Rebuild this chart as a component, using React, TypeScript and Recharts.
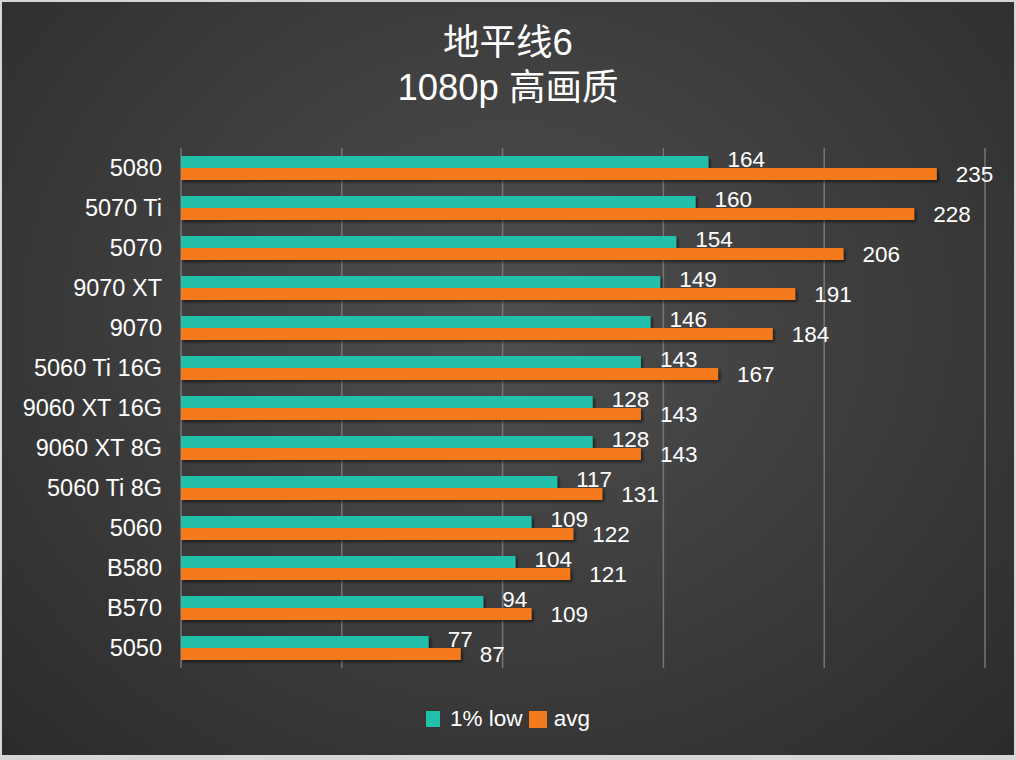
import { BarChart, Bar, XAxis, YAxis, CartesianGrid, LabelList } from "recharts";

const GPUS = [
  "5080",
  "5070 Ti",
  "5070",
  "9070 XT",
  "9070",
  "5060 Ti 16G",
  "9060 XT 16G",
  "9060 XT 8G",
  "5060 Ti 8G",
  "5060",
  "B580",
  "B570",
  "5050",
];
const LOW_1PCT = [164, 160, 154, 149, 146, 143, 128, 128, 117, 109, 104, 94, 77];
const AVG_FPS = [235, 228, 206, 191, 184, 167, 143, 143, 131, 122, 121, 109, 87];
const X_TICKS = [0, 50, 100, 150, 200, 250];

const TEAL = "#21c0aa";
const ORANGE = "#f47a1e";
const FONT = "'Liberation Sans', Arial, 'Noto Sans CJK SC', sans-serif";

const data = GPUS.map((name, i) => ({ name, low: LOW_1PCT[i], avg: AVG_FPS[i] }));

const shadowBar = (p: any) => (
  <rect x={p.x} y={p.y} width={p.width} height={p.height} fill={p.fill} filter="url(#barShadow)" />
);

const valueLabel = (dy: number) => (p: any) => (
  <text
    x={p.x + p.width + 19}
    y={p.y + p.height / 2 + dy}
    fill="#fff"
    fontSize={22.5}
    fontFamily={FONT}
    dominantBaseline="central"
  >
    {p.value}
  </text>
);

// legend drawn next to the chart so it doesn't eat into the plot height
function ChartLegend() {
  return (
    <div
      style={{
        position: "absolute",
        left: 0,
        width: 1016,
        top: 706,
        display: "flex",
        justifyContent: "center",
        alignItems: "center",
        fontFamily: FONT,
        fontSize: 22.5,
        color: "#fff",
      }}
    >
      <span style={{ width: 14, height: 16, background: TEAL, display: "inline-block", marginRight: 10 }} />
      <span style={{ marginRight: 6 }}>1% low</span>
      <span style={{ width: 18, height: 17, background: ORANGE, display: "inline-block", marginRight: 7 }} />
      <span>avg</span>
    </div>
  );
}

export default function App() {
  return (
    <div style={{ position: "absolute", left: 0, top: 0, width: 1016, height: 760, background: "#d6d6d6" }}>
      <div
        style={{
          position: "absolute",
          left: 2,
          top: 2,
          right: 2,
          bottom: 5,
          background: "radial-gradient(ellipse at 50% 42%, #4e4e4e 0%, #3f3f3f 45%, #2b2b2b 100%)",
        }}
      />
      <div
        style={{
          position: "absolute",
          left: 0,
          width: 1016,
          top: 20,
          textAlign: "center",
          color: "#fff",
          fontFamily: FONT,
          fontSize: 36.5,
          lineHeight: "45px",
        }}
      >
        <div>地平线6</div>
        <div>1080p 高画质</div>
      </div>
      <div style={{ position: "absolute", left: 0, top: 0 }}>
        <BarChart
          width={1016}
          height={760}
          data={data}
          layout="vertical"
          margin={{ top: 148, right: 31, bottom: 92, left: 0 }}
          barCategoryGap="20%"
          barGap={0}
        >
          <defs>
            <filter id="barShadow" x="-5%" y="-50%" width="115%" height="220%">
              <feDropShadow dx="2" dy="2" stdDeviation="1.5" floodColor="#000" floodOpacity="0.55" />
            </filter>
          </defs>
          <CartesianGrid horizontal={false} stroke="#767676" strokeWidth={1.5} />
          <XAxis type="number" domain={[0, 250]} ticks={X_TICKS} hide />
          <YAxis
            type="category"
            dataKey="name"
            width={181}
            axisLine={false}
            tickLine={false}
            tickMargin={13}
            tick={{ fill: "#fff", fontSize: 23.5, fontFamily: FONT }}
            interval={0}
          />
          <Bar dataKey="low" name="1% low" fill={TEAL} shape={shadowBar} isAnimationActive={false}>
            <LabelList dataKey="low" content={valueLabel(-3)} />
          </Bar>
          <Bar dataKey="avg" name="avg" fill={ORANGE} shape={shadowBar} isAnimationActive={false}>
            <LabelList dataKey="avg" content={valueLabel(0)} />
          </Bar>
        </BarChart>
      </div>
      <ChartLegend />
    </div>
  );
}
